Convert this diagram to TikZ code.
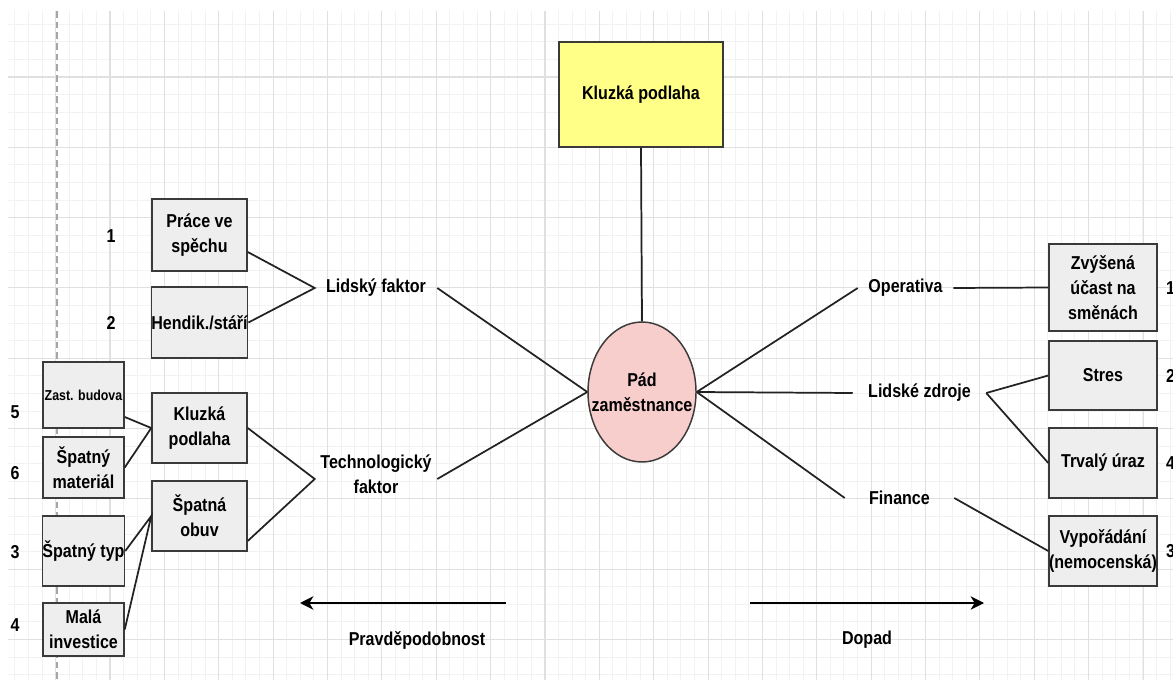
\documentclass[tikz,border=0pt]{standalone}
\usepackage{fontspec}
\setmainfont{Liberation Sans}[FakeStretch=0.86]
\usetikzlibrary{calc,arrows.meta,shapes.geometric}
\definecolor{boxfill}{HTML}{EEEEEE}
\definecolor{edge}{HTML}{3A3A3A}
\definecolor{wire}{HTML}{222222}
\definecolor{notefill}{HTML}{FFFF88}
\definecolor{eventfill}{HTML}{F8CECC}
\definecolor{gridminor}{HTML}{F2F2F2}
\definecolor{gridmajor}{HTML}{E0E0E0}
\begin{document}
\begin{tikzpicture}[x=0.75pt,y=-0.75pt,
  lbl/.style={font=\fontsize{14}{18.75}\selectfont\bfseries, align=center, text=black},
  small/.style={font=\fontsize{10.8}{14}\selectfont\bfseries},
  sz/.style 2 args={minimum width=#1*0.75pt, minimum height=#2*0.75pt},
  tw/.style={minimum width=#1*0.75pt},
  plain/.style={lbl, inner sep=0pt},
  box/.style={lbl, draw=edge, fill=boxfill, line width=1.1pt, inner sep=0pt},
  conn/.style={draw=wire, line width=1.3pt},
  axis/.style={draw=black, line width=1.6pt, -{Stealth[length=10pt, width=10pt, inset=3pt]}},
  gminor/.style={draw=gridminor, line width=0.6pt},
  gmajor/.style={draw=gridmajor, line width=0.8pt}]

% page and background grid
\useasboundingbox (0,0) rectangle (1173,680);
\fill[white] (0,0) rectangle (1173,680);
\foreach \i in {1,...,86} \draw[gminor] ({1.26+13.59*\i},11) -- ({1.26+13.59*\i},680);
\foreach \j in {1,...,38} \draw[gminor] (8,{77+17.575*(\j-4)}) -- (1173,{77+17.575*(\j-4)});
\foreach \k in {1,...,21} \draw[gmajor] ({1.26+54.37*\k},11) -- ({1.26+54.37*\k},680);
\foreach \k in {0,...,8} \draw[gmajor] (8,{77+70.3*\k}) -- (1173,{77+70.3*\k});
\draw[gray!70, line width=0.8pt, dash pattern=on 5pt off 3pt] (57,11) -- (57,680);

% central event and its source
\node[box, fill=notefill, sz={164}{105}] (top) at (641,94.5) {Kluzká podlaha};
\node[box, ellipse, fill=eventfill, sz={108}{140}, inner sep=-30pt] (pad) at (642,392) {Pád\\zaměstnance};

% causes (left)
\node[plain, tw=122] (lidsky) at (376,288) {Lidský faktor};
\node[plain, tw=122] (tech) at (376,474) {Technologický\\faktor};
\node[box, sz={95}{72}] (prace) at (199.5,235) {Práce ve\\spěchu};
\node[box, sz={95}{71}] (hendik) at (199.5,322.5) {Hendik./stáří};
\node[box, sz={95}{70}] (kluzka) at (199.5,428) {Kluzká\\podlaha};
\node[box, sz={95}{70}] (obuv) at (199.5,516) {Špatná\\obuv};
\node[box, small, sz={81}{66}] (zast) at (83.5,395) {Zast. budova};
\node[box, sz={81}{61}] (material) at (83.5,467.5) {Špatný\\materiál};
\node[box, sz={81}{70}] (typ) at (83.5,551) {Špatný typ};
\node[box, sz={81}{53}] (invest) at (83.5,629.5) {Malá\\investice};

% consequences (right)
\node[plain, tw=95] (oper) at (905.5,288) {Operativa};
\node[plain, tw=133] (lidske) at (919.5,393) {Lidské zdroje};
\node[plain, tw=109] (fin) at (899.5,498) {Finance};
\node[box, sz={108}{87}] (zvys) at (1103,287.5) {Zvýšená\\účast na\\směnách};
\node[box, sz={108}{69}] (stres) at (1103,375.5) {Stres};
\node[box, sz={108}{70}] (uraz) at (1103,463) {Trvalý úraz};
\node[box, sz={108}{70}] (vyp) at (1103,551) {Vypořádání\\(nemocenská)};

% ranking numbers
\node[plain] (n1) at (111,236) {1};
\node[plain] (n2) at (111,323) {2};
\node[plain] (n5) at (15,412) {5};
\node[plain] (n6) at (15,473) {6};
\node[plain] (n3) at (15,552) {3};
\node[plain] (n4) at (15,625) {4};
\node[plain] (r1) at (1170.5,288) {1};
\node[plain] (r2) at (1170.5,376) {2};
\node[plain] (r4) at (1170.5,463) {4};
\node[plain] (r3) at (1170.5,551) {3};

% connectors
\draw[conn] (top.south) -- (pad.north);
\draw[conn] (pad.west) -- (lidsky.east);
\draw[conn] (pad.west) -- ($(tech.east)+(0,5)$);
\draw[conn] (pad.east) -- (oper.west);
\draw[conn] (pad.east) -- (lidske.west);
\draw[conn] (pad.east) -- (fin.west);
\draw[conn] (oper.east) -- (zvys.west);
\draw[conn] (lidske.east) -- (stres.west);
\draw[conn] (lidske.east) -- (uraz.west);
\draw[conn] (fin.east) -- (vyp.west);
\draw[conn] ($(prace.east)+(0,17)$) -- (lidsky.west) -- (hendik.east);
\draw[conn] (kluzka.east) -- ($(tech.west)+(0,5)$) -- ($(obuv.east)+(0,25)$);
\draw[conn] ($(zast.east)+(0,22)$) -- (kluzka.west) -- (material.east);
\draw[conn] (typ.east) -- (obuv.west) -- (invest.east);

% direction arrows
\coordinate (pstart) at (506,603);
\coordinate (pend) at (300,603);
\coordinate (dstart) at (750,603);
\coordinate (dend) at (984,603);
\draw[axis] (pstart) -- (pend);
\draw[axis] (dstart) -- (dend);
\node[plain] (prob) at (417,640) {Pravděpodobnost};
\node[plain] (dopad) at (867,640) {Dopad};
\end{tikzpicture}
\end{document}
